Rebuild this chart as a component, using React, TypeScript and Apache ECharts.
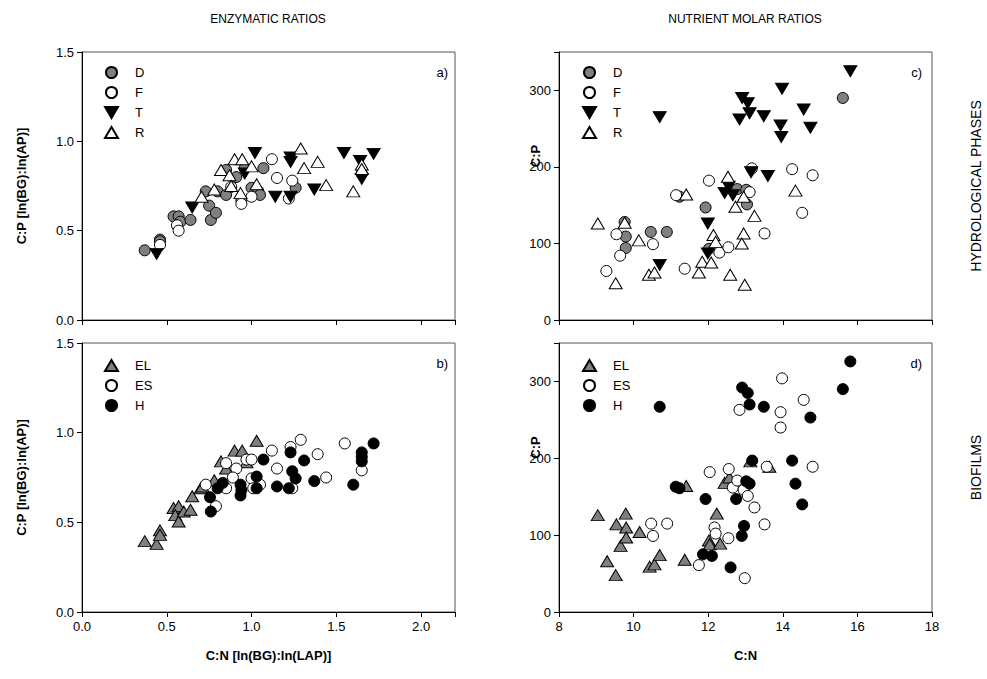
import React, { useEffect, useRef } from 'react';
import * as echarts from 'echarts';

// ---------- Panel a: enzymatic ratios by hydrological phase [C:N, C:P] ----------
const enzD = [
  [0.37, 0.39], [0.46, 0.45], [0.46, 0.44], [0.54, 0.58], [0.57, 0.58], [0.58, 0.55],
  [0.64, 0.56], [0.75, 0.64], [0.76, 0.56], [0.79, 0.60], [0.73, 0.72], [0.80, 0.72],
  [0.85, 0.70], [0.85, 0.84], [0.91, 0.80], [0.96, 0.85], [1.00, 0.74], [1.04, 0.72],
  [1.05, 0.70], [1.07, 0.85], [1.26, 0.74], [0.94, 0.67],
];
const enzF = [
  [0.46, 0.42], [0.56, 0.53], [0.57, 0.50], [0.88, 0.745], [0.94, 0.65], [1.00, 0.69],
  [1.12, 0.90], [1.15, 0.795], [1.24, 0.78], [1.22, 0.68], [1.65, 0.82],
];
const enzT = [
  [0.44, 0.37], [0.65, 0.63], [1.02, 0.935], [0.96, 0.82], [1.23, 0.91], [1.23, 0.885],
  [1.14, 0.69], [1.23, 0.69], [1.37, 0.73], [1.545, 0.935], [1.64, 0.89], [1.72, 0.93],
  [1.65, 0.79],
];
const enzR = [
  [0.82, 0.84], [0.87, 0.81], [0.90, 0.90], [0.945, 0.90], [1.00, 0.86], [1.03, 0.76],
  [0.88, 0.75], [0.935, 0.71], [0.78, 0.73], [0.705, 0.69], [1.29, 0.96], [1.31, 0.85],
  [1.39, 0.885], [1.44, 0.755], [1.60, 0.72], [1.65, 0.87], [1.65, 0.845],
];

// ---------- Panel b: enzymatic ratios by biofilm ----------
const enzEL = [
  [0.37, 0.395], [0.44, 0.38], [0.46, 0.455], [0.46, 0.43], [0.54, 0.58], [0.57, 0.59],
  [0.55, 0.54], [0.57, 0.505], [0.60, 0.56], [0.64, 0.57], [0.65, 0.645], [0.70, 0.69],
  [0.78, 0.735], [0.82, 0.84], [0.90, 0.90], [0.945, 0.90], [0.97, 0.835], [1.03, 0.955],
  [0.71, 0.70], [0.85, 0.80],
];
const enzES = [
  [0.73, 0.71], [0.79, 0.59], [0.85, 0.83], [0.91, 0.80], [0.89, 0.75], [0.85, 0.69],
  [0.97, 0.85], [1.00, 0.85], [1.00, 0.745], [1.01, 0.69], [1.05, 0.71], [1.12, 0.90],
  [1.15, 0.80], [1.23, 0.92], [1.29, 0.96], [1.24, 0.69], [1.39, 0.88], [1.44, 0.75],
  [1.55, 0.94], [1.65, 0.79],
];
const enzH = [
  [0.755, 0.64], [0.76, 0.56], [0.80, 0.69], [0.83, 0.72], [0.935, 0.71], [0.935, 0.65],
  [1.03, 0.755], [1.03, 0.69], [1.07, 0.85], [1.15, 0.70], [1.23, 0.89], [1.24, 0.785],
  [1.26, 0.745], [1.22, 0.69], [1.31, 0.845], [1.37, 0.73], [1.60, 0.71], [1.65, 0.89],
  [1.65, 0.865], [1.65, 0.84], [1.72, 0.94], [0.94, 0.68],
];

// ---------- Panel c: nutrient molar ratios by hydrological phase [C:N, C:P] ----------
const molD = [
  [9.76, 128], [9.79, 109], [9.79, 94], [10.46, 115], [10.89, 115], [11.23, 161],
  [11.93, 147], [12.02, 93], [12.78, 171], [13.02, 170], [13.04, 151], [15.61, 290],
];
const molF = [
  [9.27, 64], [9.54, 112], [9.64, 84], [10.52, 99], [11.14, 163], [11.37, 67],
  [12.02, 182], [12.30, 88], [12.54, 95], [13.17, 198], [13.11, 167], [13.51, 113],
  [14.25, 197], [14.52, 140], [14.80, 189],
];
const molT = [
  [10.70, 265], [10.70, 72], [11.99, 126], [11.99, 87], [12.44, 166], [12.55, 174],
  [12.66, 163], [12.91, 290], [13.06, 283], [12.84, 262], [13.11, 270], [13.15, 193],
  [13.49, 266], [13.60, 188], [13.94, 254], [13.96, 239], [13.98, 302], [14.56, 275],
  [14.74, 251], [15.81, 325],
];
const molR = [
  [9.04, 126], [9.52, 48], [9.76, 127], [10.14, 104], [10.41, 59], [10.56, 62],
  [11.41, 164], [11.75, 62], [11.84, 76], [12.08, 75], [12.14, 111], [12.20, 102],
  [12.53, 187], [12.59, 59], [12.73, 148], [12.95, 161], [12.95, 113], [12.90, 100],
  [12.98, 46], [13.24, 136], [14.34, 169],
];

// ---------- Panel d: nutrient molar ratios by biofilm ----------
const molEL = [
  [9.04, 126], [9.29, 66], [9.52, 48], [9.54, 114], [9.65, 86], [9.79, 128],
  [9.80, 110], [9.80, 97], [10.16, 104], [10.43, 59], [10.56, 62], [10.70, 74],
  [11.37, 68], [11.41, 164], [12.02, 93], [12.04, 88], [12.23, 128], [12.32, 89],
  [12.44, 168], [12.57, 175], [13.13, 196], [13.64, 189],
];
const molES = [
  [10.47, 115], [10.52, 99], [10.90, 115], [11.75, 61], [12.04, 182], [12.17, 110],
  [12.20, 102], [12.54, 96], [12.55, 186], [12.66, 162], [12.78, 171], [12.95, 159],
  [13.06, 151], [13.24, 136], [12.84, 263], [12.98, 44], [13.51, 114], [13.57, 189],
  [13.94, 240], [13.94, 260], [13.98, 304], [14.56, 276], [14.80, 189],
];
const molH = [
  [10.70, 267], [11.13, 163], [11.23, 161], [11.93, 147], [11.86, 75], [12.10, 73],
  [12.60, 58], [12.75, 147], [12.91, 292], [13.06, 285], [13.11, 270], [12.90, 99],
  [12.96, 112], [13.02, 170], [13.11, 167], [13.18, 197], [13.49, 267], [14.25, 197],
  [14.34, 167], [14.52, 140], [14.74, 253], [15.61, 290], [15.81, 326],
];

// tick values
const enzXTicks = [0, 0.5, 1.0, 1.5, 2.0];
const enzYTicks = [0, 0.5, 1.0, 1.5];
const molXTicks = [8, 10, 12, 14, 16, 18];
const molYTicks = [0, 100, 200, 300];

const FONT = '"Liberation Sans", Arial, Helvetica, sans-serif';
const DOWN_TRIANGLE = 'path://M0,0L14,0L7,12Z';

const markerStyles: Record<string, any> = {
  D: { symbol: 'circle', symbolSize: 11, color: '#808080' },
  F: { symbol: 'circle', symbolSize: 11, color: '#ffffff' },
  T: { symbol: 'triangle', symbolSize: [13, 11], color: '#000000', symbolRotate: 180 },
  R: { symbol: 'triangle', symbolSize: [13, 11], color: '#ffffff' },
  EL: { symbol: 'triangle', symbolSize: [13, 11], color: '#808080' },
  ES: { symbol: 'circle', symbolSize: 11, color: '#ffffff' },
  H: { symbol: 'circle', symbolSize: 11, color: '#000000' },
};

function makeSeries(name: string, data: number[][], idx: number) {
  const s = markerStyles[name];
  return {
    type: 'scatter',
    name,
    xAxisIndex: idx,
    yAxisIndex: idx,
    data,
    symbol: s.symbol,
    symbolSize: s.symbolSize,
    symbolRotate: s.symbolRotate || 0,
    itemStyle: { color: s.color, borderColor: '#000', borderWidth: 1, opacity: 1 },
    emphasis: { disabled: true },
  };
}

const axisCommon = {
  axisLine: { show: true, onZero: false, lineStyle: { color: '#000', width: 1 } },
  axisTick: { show: true, inside: false, length: 5, lineStyle: { color: '#000' } },
  splitLine: { show: false },
  axisLabel: { color: '#000', fontSize: 13, fontFamily: FONT, margin: 8 },
  nameTextStyle: { color: '#000', fontSize: 13, fontWeight: 'bold', fontFamily: FONT },
  nameMoveOverlap: false,
};

function inTicks(ticks: number[], v: number, dec: number) {
  return ticks.some((t) => Math.abs(t - v) < 1e-6) ? v.toFixed(dec) : '';
}

// side label drawn as the name of an otherwise invisible right-hand axis
function sideLabelAxis(gridIndex: number, name: string, shift: number) {
  return {
    gridIndex, type: 'value', position: 'right', min: 0, max: 1,
    axisLine: { show: false }, axisTick: { show: false }, axisLabel: { show: false },
    splitLine: { show: false },
    name, nameLocation: 'middle', nameGap: 37, nameRotate: 90, nameMoveOverlap: false,
    nameTextStyle: { color: '#000', fontSize: 14, fontFamily: FONT, padding: [0, 0, 0, shift] },
  };
}

export default function App() {
  const ref = useRef<HTMLDivElement>(null);
  useEffect(() => {
    if (!ref.current) return;
    const chart = echarts.init(ref.current, undefined, { renderer: 'svg' });
    const grids = [
      { left: 82, top: 52, width: 373, height: 268 },
      { left: 82, top: 343, width: 373, height: 269 },
      { left: 559, top: 52, width: 373, height: 268 },
      { left: 559, top: 343, width: 373, height: 269 },
    ].map((g) => ({ ...g, show: true, borderColor: '#555', borderWidth: 1, backgroundColor: 'transparent' }));

    const xAxes = [
      { ...axisCommon, gridIndex: 0, type: 'value', min: 0, max: 2.2, interval: 0.5,
        axisLabel: { ...axisCommon.axisLabel, show: false } },
      { ...axisCommon, gridIndex: 1, type: 'value', min: 0, max: 2.2, interval: 0.5,
        axisLabel: { ...axisCommon.axisLabel, formatter: (v: number) => inTicks(enzXTicks, v, 1) },
        name: 'C:N [ln(BG):ln(LAP)]', nameLocation: 'middle', nameGap: 37 },
      { ...axisCommon, gridIndex: 2, type: 'value', min: 8, max: 18, interval: 2,
        axisLabel: { ...axisCommon.axisLabel, show: false } },
      { ...axisCommon, gridIndex: 3, type: 'value', min: 8, max: 18, interval: 2,
        axisLabel: { ...axisCommon.axisLabel, formatter: (v: number) => inTicks(molXTicks, v, 0) },
        name: 'C:N', nameLocation: 'middle', nameGap: 37 },
    ];
    const yAxes: any[] = [0, 1].map((i) => ({
      ...axisCommon, gridIndex: i, type: 'value', min: 0, max: 1.5, interval: 0.5,
      axisLabel: { ...axisCommon.axisLabel, formatter: (v: number) => inTicks(enzYTicks, v, 1) },
      name: 'C:P [ln(BG):ln(AP)]', nameLocation: 'middle', nameGap: 54,
    }));
    [2, 3].forEach((i) => yAxes.push({
      ...axisCommon, gridIndex: i, type: 'value', min: 0, max: 350, interval: 100,
      axisLabel: { ...axisCommon.axisLabel, formatter: (v: number) => inTicks(molYTicks, v, 0) },
      name: 'C:P', nameLocation: 'middle', nameGap: 17,
      nameTextStyle: { ...axisCommon.nameTextStyle, padding: [0, 0, 0, 60] },
    }));
    yAxes.push(sideLabelAxis(2, 'HYDROLOGICAL PHASES', 0));
    yAxes.push(sideLabelAxis(3, 'BIOFILMS', 20));

    const series = [
      makeSeries('D', enzD, 0), makeSeries('F', enzF, 0), makeSeries('T', enzT, 0), makeSeries('R', enzR, 0),
      makeSeries('EL', enzEL, 1), makeSeries('ES', enzES, 1), makeSeries('H', enzH, 1),
      makeSeries('D', molD, 2), makeSeries('F', molF, 2), makeSeries('T', molT, 2), makeSeries('R', molR, 2),
      makeSeries('EL', molEL, 3), makeSeries('ES', molES, 3), makeSeries('H', molH, 3),
    ];

    const legendCommon = {
      orient: 'vertical', itemWidth: 13, itemHeight: 11, itemGap: 7, padding: 0,
      selectedMode: false,
      textStyle: { color: '#000000', fontSize: 13, fontFamily: FONT, lineHeight: 11, padding: [0, 0, 0, 12] },
    };
    const phaseLegend = ['D', 'F', { name: 'T', icon: DOWN_TRIANGLE }, 'R'];
    const biofilmLegend = ['EL', 'ES', 'H'];
    const legends = [
      { ...legendCommon, left: 104, top: 66, data: phaseLegend },
      { ...legendCommon, left: 104, top: 359, data: biofilmLegend },
      { ...legendCommon, left: 582, top: 66, data: phaseLegend },
      { ...legendCommon, left: 582, top: 359, data: biofilmLegend },
    ];

    const txt = (text: string, x: number, y: number, extra: any = {}) => ({
      type: 'text', x, y, silent: true,
      style: {
        text, fill: '#000', font: `12px ${FONT}`,
        align: 'center', verticalAlign: 'middle', ...extra,
      },
    });

    chart.setOption({
      animation: false,
      backgroundColor: '#fff',
      grid: grids,
      xAxis: xAxes,
      yAxis: yAxes,
      legend: legends,
      series,
      graphic: [
        txt('ENZYMATIC RATIOS', 268, 19),
        txt('NUTRIENT MOLAR RATIOS', 745, 19),
        txt('a)', 448, 72, { align: 'right', font: `13px ${FONT}` }),
        txt('b)', 448, 363, { align: 'right', font: `13px ${FONT}` }),
        txt('c)', 922, 72, { align: 'right', font: `13px ${FONT}` }),
        txt('d)', 922, 363, { align: 'right', font: `13px ${FONT}` }),
      ],
    } as any);
    return () => chart.dispose();
  }, []);
  return <div ref={ref} style={{ width: 987, height: 679, position: 'absolute', left: 0, top: 0 }} />;
}
